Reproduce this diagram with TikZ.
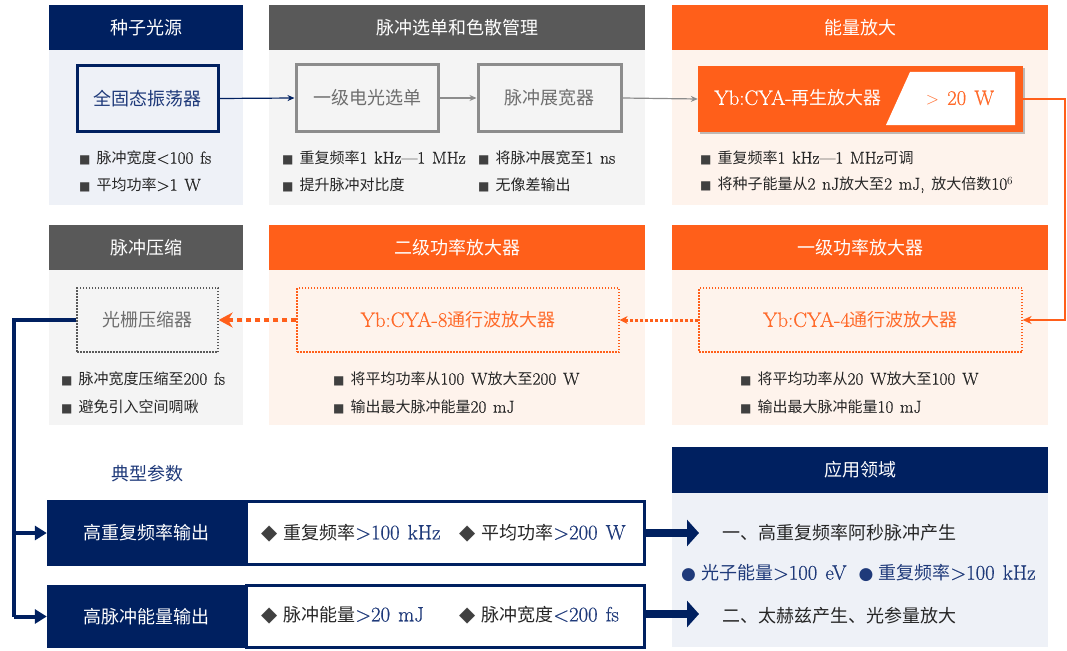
\documentclass[tikz,border=0pt]{standalone}
\usepackage{fontspec}
\setmainfont{Latin Modern Roman}[Scale=1.15, WordSpace=1.3, FakeBold=0.6]
\newfontfamily\zhfont{Noto Sans CJK SC}
\newfontfamily\symfont{DejaVu Sans}
\usetikzlibrary{arrows.meta,shadows}
\definecolor{navy}{HTML}{002060}
\definecolor{navytext}{HTML}{1F3A7A}
\definecolor{dgray}{HTML}{595959}
\definecolor{mgray}{HTML}{8C8C8C}
\definecolor{tgray}{HTML}{6E6E6E}
\definecolor{orng}{HTML}{FF5F1A}
\definecolor{orngtext}{HTML}{FF6A2A}
\definecolor{bgblue}{HTML}{EEF1F7}
\definecolor{bggray}{HTML}{F4F4F4}
\definecolor{bgorng}{HTML}{FEF3EC}
\definecolor{txt}{HTML}{262626}
\definecolor{bul}{HTML}{404040}
\newcommand\zh[1]{{\zhfont #1}}
\newcommand\sqb{{\symfont\fontsize{12}{12}\selectfont\textcolor{bul}{■}}\hspace{6pt}}
\newcommand\dia{{\symfont\fontsize{21}{21}\selectfont\textcolor{bul}{◆}}\hspace{6pt}}
\newcommand\cir{{\symfont\fontsize{17}{17}\selectfont ●}\hspace{5pt}}
\tikzset{
  hdr/.style={minimum height=45pt, inner sep=0pt, text=white, font=\fontsize{18}{20}\selectfont},
  body/.style={minimum height=155pt, inner sep=0pt, anchor=north},
  btxt/.style={anchor=west, inner sep=0pt, font=\fontsize{15}{18}\selectfont, text=txt},
  ltxt/.style={anchor=west, inner sep=0pt, font=\fontsize{18}{20}\selectfont, text=txt},
  solidbox/.style={line width=3pt, inner sep=0pt, font=\fontsize{18}{20}\selectfont},
  dotbox/.style={line width=1.2pt, dash pattern=on 1.5pt off 1.5pt, inner sep=0pt, font=\fontsize{18}{20}\selectfont},
  rowhead/.style={fill=navy, inner sep=0pt, text=white, minimum width=199pt, font=\fontsize{18}{20}\selectfont},
  rowbody/.style={draw=navy, line width=3pt, fill=white, inner sep=0pt, minimum width=398pt},
  bigarrow/.style={navy, line width=8pt, -{Triangle[length=12pt, width=26pt]}},
}
\begin{document}
\begin{tikzpicture}[x=1pt, y=-1pt]
\useasboundingbox (0,0) rectangle (1067,650);
\fill[white] (0,0) rectangle (1067,650);

% ---------- panels ----------
\node[hdr, fill=navy, minimum width=194pt] (h1) at (146,27.5) {\zh{种子光源}};
\node[body, fill=bgblue, minimum width=194pt] (b1) at (h1.south) {};
\node[hdr, fill=dgray, minimum width=376pt] (h2) at (457,27.5) {\zh{脉冲选单和色散管理}};
\node[body, fill=bggray, minimum width=376pt] (b2) at (h2.south) {};
\node[hdr, fill=orng, minimum width=376pt] (h3) at (860,27.5) {\zh{能量放大}};
\node[body, fill=bgorng, minimum width=376pt] (b3) at (h3.south) {};

\node[hdr, fill=dgray, minimum width=194pt] (h4) at (146,247.5) {\zh{脉冲压缩}};
\node[body, fill=bggray, minimum width=194pt] (b4) at (h4.south) {};
\node[hdr, fill=orng, minimum width=376pt] (h5) at (457,247.5) {\zh{二级功率放大器}};
\node[body, fill=bgorng, minimum width=376pt] (b5) at (h5.south) {};
\node[hdr, fill=orng, minimum width=376pt] (h6) at (860,247.5) {\zh{一级功率放大器}};
\node[body, fill=bgorng, minimum width=376pt] (b6) at (h6.south) {};

\node[hdr, fill=navy, minimum width=376pt, minimum height=46pt] (h7) at (860,470) {\zh{应用领域}};
\node[body, fill=bgblue, minimum width=376pt, minimum height=154pt] (b7) at (h7.south) {};

% ---------- boxes ----------
\node[solidbox, draw=navy, fill=bgblue, text=navytext, minimum width=141pt, minimum height=65pt] (osc) at (147.5,98.5) {\zh{全固态振荡器}};
\node[solidbox, draw=mgray, fill=bggray, text=tgray, minimum width=142pt, minimum height=66pt] (eo) at (367,98) {\zh{一级电光选单}};
\node[solidbox, draw=mgray, fill=bggray, text=tgray, minimum width=143pt, minimum height=66pt] (str) at (549.5,98) {\zh{脉冲展宽器}};
\node[fill=orng, inner sep=0pt, minimum width=325pt, minimum height=66pt,
      drop shadow={shadow xshift=2pt, shadow yshift=-2pt, opacity=0.35, fill=black!70}] (regen) at (860.5,99) {};
\fill[white] (910,72) -- (1015,72) -- (1015,125) -- (886,125) -- cycle;
\node[inner sep=0pt, text=white, font=\fontsize{18}{20}\selectfont] (regent) at (798,98) {Yb:CYA-\zh{再生放大器}};
\node[inner sep=0pt, text=orngtext, font=\fontsize{18}{20}\selectfont] (regenw) at (960,98) {$>$ 20~W};

\node[dotbox, draw=dgray, fill=bggray, text=tgray, minimum width=141pt, minimum height=64pt] (comp) at (147.5,320) {\zh{光栅压缩器}};
\node[dotbox, draw=orng, fill=bgorng, text=orngtext, minimum width=322pt, minimum height=64pt] (a8) at (458,320) {Yb:CYA-8\zh{通行波放大器}};
\node[dotbox, draw=orng, fill=bgorng, text=orngtext, minimum width=323pt, minimum height=64pt] (a4) at (860.5,320) {Yb:CYA-4\zh{通行波放大器}};

% ---------- bullet texts ----------
\node[btxt] (t11) at (79,158) {\sqb\zh{脉冲宽度}<100 fs};
\node[btxt] (t12) at (79,185) {\sqb\zh{平均功率}>1 W};
\node[btxt] (t21) at (282,158) {\sqb\zh{重复频率}1 kHz—1 MHz};
\node[btxt] (t22) at (282,185) {\sqb\zh{提升脉冲对比度}};
\node[btxt] (t23) at (478,158) {\sqb\zh{将脉冲展宽至}1 ns};
\node[btxt] (t24) at (478,185) {\sqb\zh{无像差输出}};
\node[btxt] (t31) at (700,158) {\sqb\zh{重复频率}1 kHz—1 MHz\zh{可调}};
\node[btxt] (t32) at (700,185) {\sqb\zh{将种子能量从}2 nJ\zh{放大至}2 mJ, \zh{放大倍数}10$^6$};
\node[btxt] (t41) at (61,379) {\sqb\zh{脉冲宽度压缩至}200 fs};
\node[btxt] (t42) at (61,407) {\sqb\zh{避免引入空间啁啾}};
\node[btxt] (t51) at (333,379) {\sqb\zh{将平均功率从}100 W\zh{放大至}200 W};
\node[btxt] (t52) at (333,407) {\sqb\zh{输出最大脉冲能量}20 mJ};
\node[btxt] (t61) at (740,379) {\sqb\zh{将平均功率从}20 W\zh{放大至}100 W};
\node[btxt] (t62) at (740,407) {\sqb\zh{输出最大脉冲能量}10 mJ};

% ---------- bottom ----------
\node[inner sep=0pt, text=navytext, font=\fontsize{18}{20}\selectfont] (typ) at (147,474) {\zh{典型参数}};
\node[rowhead, minimum height=66pt] (r1) at (146.5,533) {\zh{高重复频率输出}};
\node[rowbody, minimum height=63pt] (p1) at (445.5,533) {};
\node[rowhead, minimum height=63pt] (r2) at (146.5,616.5) {\zh{高脉冲能量输出}};
\node[rowbody, minimum height=62pt] (p2) at (445.5,616.5) {};
\node[ltxt] (p11) at (261,533) {\dia\zh{重复频率}\textcolor{navytext}{>100 kHz}};
\node[ltxt] (p12) at (459,533) {\dia\zh{平均功率}\textcolor{navytext}{>200 W}};
\node[ltxt] (p21) at (261,615) {\dia\zh{脉冲能量}\textcolor{navytext}{>20 mJ}};
\node[ltxt] (p22) at (459,615) {\dia\zh{脉冲宽度}\textcolor{navytext}{<200 fs}};

\node[ltxt] (ap1) at (722,533) {\zh{一、高重复频率阿秒脉冲产生}};
\node[ltxt, text=navytext] (ap2) at (681,573) {\cir\zh{光子能量}>100 eV\hspace{12pt}\cir\zh{重复频率}>100 kHz};
\node[ltxt] (ap3) at (722,616) {\zh{二、太赫兹产生、光参量放大}};

% ---------- connectors ----------
\draw[navy, line width=1.2pt, -{Stealth[length=7pt, width=6pt]}] (osc.east) -- (eo.west);
\draw[mgray, line width=1.2pt, -{Stealth[length=7pt, width=6pt]}] (eo.east) -- (str.west);
\draw[mgray, line width=1.2pt, -{Stealth[length=7pt, width=6pt]}] (str.east) -- (regen.west);
\coordinate (rx) at (1065,0);
\draw[orng, line width=1.8pt, -{Stealth[length=9pt, width=8pt]}] (regen.east) -- (regen.east -| rx) -- (rx |- a4.east) -- (a4.east);
\draw[orng, line width=3pt, dash pattern=on 3pt off 2pt, -{Stealth[length=8pt, width=8pt]}] (a4.west) -- (a8.east);
\draw[orng, line width=4.5pt, dash pattern=on 5pt off 4pt, -{Stealth[length=14pt, width=15pt]}] (a8.west) -- (comp.east);
\coordinate (lx) at (14,0);
\draw[navy, line width=4pt] (comp.west) -- (comp.west -| lx) -- (lx |- r2.west);
\draw[navy, line width=4pt, -{Triangle[length=12pt, width=14pt]}] (lx |- r1.west) -- (r1.west);
\draw[navy, line width=4pt, -{Triangle[length=12pt, width=14pt]}] (lx |- r2.west) -- (r2.west);
\coordinate (e1) at (699,533);
\coordinate (e2) at (699,614);
\draw[bigarrow] (p1.east) -- (e1);
\draw[bigarrow] (p2.east |- e2) -- (e2);
\end{tikzpicture}
\end{document}
